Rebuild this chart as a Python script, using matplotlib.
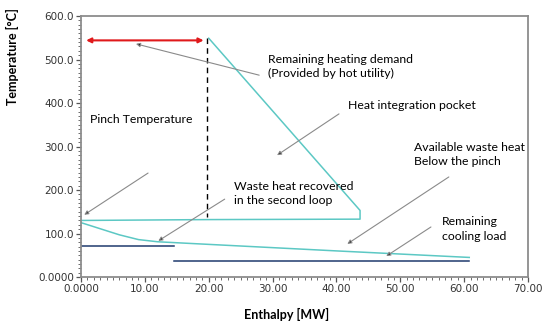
"""Composite curves with pinch annotations."""

import matplotlib
matplotlib.use('Agg')
import matplotlib.pyplot as plt
from matplotlib.ticker import MultipleLocator, FuncFormatter

# hot composite curve (teal, upper)
hot_H = [20.0, 43.7, 43.7, 20.0, 0.0]
hot_T = [549.0, 153.0, 133.0, 132.0, 130.0]

# cold composite curve (teal, lower)
cold_H = [0.0, 3.0, 6.0, 9.0, 12.0, 20.0, 40.0, 60.8]
cold_T = [125.0, 111.0, 97.0, 86.0, 81.0, 75.0, 60.0, 45.0]

# cooling utility segments (dark blue)
cool1_H = [0.0, 14.5]
cool1_T = [72.0, 72.0]
cool2_H = [14.5, 60.7]
cool2_T = [36.0, 36.0]

# hot utility span and pinch line
hot_util_H = [0.8, 19.2]
hot_util_T = 544.0
pinch_H = 19.7
pinch_T = [549.0, 138.0]

x_ticks = [0, 10, 20, 30, 40, 50, 60, 70]
y_ticks = [0, 100, 200, 300, 400, 500, 600]

TEAL = '#5cc8c4'
NAVY = '#1f3a6e'
TEXT_FONT = 'Lato'

fig = plt.figure(figsize=(5.5, 3.27), dpi=100)
ax = fig.add_axes([0.1473, 0.1529, 0.8127, 0.7981])

ax.plot(hot_H, hot_T, color=TEAL, lw=1.1)
ax.plot(cold_H, cold_T, color=TEAL, lw=1.1)
ax.plot(cool1_H, cool1_T, color=NAVY, lw=1.1)
ax.plot(cool2_H, cool2_T, color=NAVY, lw=1.1)
ax.plot([pinch_H, pinch_H], pinch_T, color='black', lw=1.0, ls=(0, (4, 3)))

ax.annotate('', xy=(hot_util_H[0], hot_util_T), xytext=(hot_util_H[1], hot_util_T),
            arrowprops=dict(arrowstyle='<|-|>', color='#e0191b', lw=1.5,
                            mutation_scale=7, shrinkA=0, shrinkB=0))

arrow_kw = dict(arrowstyle='-|>', ec='#8a8a8a', fc='black', lw=0.8,
                mutation_scale=6, shrinkA=0, shrinkB=0)
txt_kw = dict(fontsize=8.8, family=TEXT_FONT, color='black', va='center', ha='left',
              linespacing=1.4)

ax.text(29.3, 484, 'Remaining heating demand\n(Provided by hot utility)', **txt_kw)
ax.annotate('', xy=(8.6, 536), xytext=(27.9, 464), arrowprops=arrow_kw)

ax.text(1.4, 361, 'Pinch Temperature', **txt_kw)
ax.annotate('', xy=(0.5, 143), xytext=(10.5, 239), arrowprops=arrow_kw)

ax.text(41.8, 395, 'Heat integration pocket', **txt_kw)
ax.annotate('', xy=(30.7, 280), xytext=(40.4, 375), arrowprops=arrow_kw)

ax.text(52.1, 282, 'Available waste heat\nBelow the pinch', **txt_kw)
ax.annotate('', xy=(41.7, 76), xytext=(57.6, 230), arrowprops=arrow_kw)

ax.text(24.0, 192, 'Waste heat recovered\nin the second loop', **txt_kw)
ax.annotate('', xy=(12.1, 83), xytext=(22.5, 179), arrowprops=arrow_kw)

ax.text(56.5, 110, 'Remaining\ncooling load', **txt_kw)
ax.annotate('', xy=(47.8, 48), xytext=(54.8, 115), arrowprops=arrow_kw)

ax.set_xlim(0, 70)
ax.set_ylim(0, 600)
ax.set_xticks(x_ticks)
ax.set_yticks(y_ticks)
ax.xaxis.set_minor_locator(MultipleLocator(1))
ax.yaxis.set_minor_locator(MultipleLocator(10))
ax.xaxis.set_major_formatter(FuncFormatter(lambda v, p: '0.0000' if v == 0 else f'{v:.2f}'))
ax.yaxis.set_major_formatter(FuncFormatter(lambda v, p: '0.0000' if v == 0 else f'{v:.1f}'))

for s in ax.spines.values():
    s.set_color('#8c8c8c')
    s.set_linewidth(1.3)

ax.tick_params(which='major', direction='out', length=3.5, width=0.9, color='#555555',
               labelsize=7.5, labelcolor='#333333', pad=1.5)
ax.tick_params(which='minor', direction='out', length=2, width=0.6, color='#555555')
for lab in ax.get_xticklabels() + ax.get_yticklabels():
    lab.set_family('DejaVu Sans')

fig.text(12 / 550, 1 - 57 / 327, 'Temperature [°C]', rotation=90, ha='center', va='center',
         fontsize=9, fontweight='bold', family=TEXT_FONT)
fig.text(287 / 550, 1 - 314 / 327, 'Enthalpy [MW]', ha='center', va='center',
         fontsize=9, fontweight='bold', family=TEXT_FONT)

fig.savefig('out.png', dpi=100)
